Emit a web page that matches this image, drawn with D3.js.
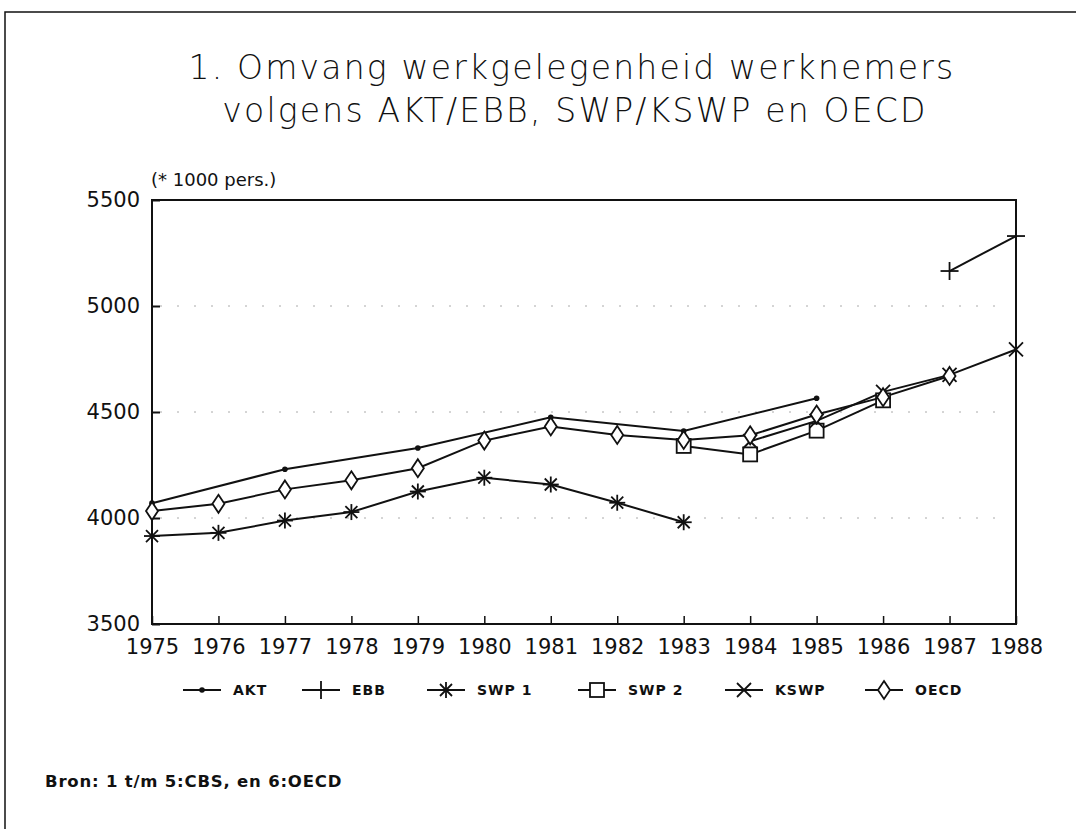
<!DOCTYPE html>
<html>
<head>
<meta charset="utf-8">
<script src="https://cdn.jsdelivr.net/npm/d3@7.9.0/dist/d3.min.js"></script>
<style>
  body { margin: 0; background: #fff; }
  svg { display: block; }
  text { font-family: "DejaVu Sans", "Liberation Sans", sans-serif; fill: #111; }
</style>
</head>
<body>
<svg id="chart" width="1076" height="829"></svg>
<script>
// data (* 1000 persons)
const years = [1975, 1976, 1977, 1978, 1979, 1980, 1981, 1982, 1983, 1984, 1985, 1986, 1987, 1988];
const yTicks = [3500, 4000, 4500, 5000, 5500];
const gridValues = [4000, 4500, 5000];

const aktYears = [1975, 1977, 1979, 1981, 1983, 1985];
const aktValues = [4070, 4230, 4330, 4475, 4410, 4565];

const ebbYears = [1987, 1988];
const ebbValues = [5165, 5330];

const swp1Years = [1975, 1976, 1977, 1978, 1979, 1980, 1981, 1982, 1983];
const swp1Values = [3915, 3930, 3988, 4028, 4125, 4190, 4158, 4072, 3980];

const swp2Years = [1983, 1984, 1985, 1986];
const swp2Values = [4340, 4300, 4412, 4555];

const kswpYears = [1984, 1985, 1986, 1987, 1988];
const kswpValues = [4362, 4458, 4595, 4675, 4795];

const oecdYears = [1975, 1976, 1977, 1978, 1979, 1980, 1981, 1982, 1983, 1984, 1985, 1986, 1987];
const oecdValues = [4033, 4067, 4135, 4178, 4235, 4365, 4432, 4392, 4368, 4390, 4488, 4570, 4670];

const seriesNames = ['AKT', 'EBB', 'SWP 1', 'SWP 2', 'KSWP', 'OECD'];
const seriesMarkers = ['dot', 'plus', 'star', 'square', 'cross', 'diamond'];

const series = [
  { name: seriesNames[0], marker: seriesMarkers[0], years: aktYears, values: aktValues },
  { name: seriesNames[1], marker: seriesMarkers[1], years: ebbYears, values: ebbValues },
  { name: seriesNames[2], marker: seriesMarkers[2], years: swp1Years, values: swp1Values },
  { name: seriesNames[3], marker: seriesMarkers[3], years: swp2Years, values: swp2Values },
  { name: seriesNames[4], marker: seriesMarkers[4], years: kswpYears, values: kswpValues },
  { name: seriesNames[5], marker: seriesMarkers[5], years: oecdYears, values: oecdValues }
];

const svg = d3.select('#chart');
const plotL = 152, plotR = 1016, plotT = 200, plotB = 624;

const x = d3.scaleLinear().domain([1975, 1988]).range([plotL, plotR]);
const y = d3.scaleLinear().domain([3500, 5500]).range([plotB, plotT]);

// outer frame
svg.append('rect')
  .attr('x', 5).attr('y', 12).attr('width', 1090).attr('height', 840)
  .attr('fill', 'none').attr('stroke', '#111').attr('stroke-width', 1.5);

// title
const title = svg.append('text')
  .attr('x', 572).attr('text-anchor', 'middle')
  .attr('font-size', 33).style('font-weight', 300).style('letter-spacing', '2.2px');
title.append('tspan').attr('x', 572).attr('y', 79).text('1. Omvang werkgelegenheid werknemers');
title.append('tspan').attr('x', 575).attr('y', 122).text('volgens AKT/EBB, SWP/KSWP en OECD');

svg.append('text')
  .attr('x', 151).attr('y', 186)
  .attr('font-size', 18)
  .text('(* 1000 pers.)');

// faint dotted grid
svg.append('g').selectAll('line')
  .data(gridValues).join('line')
  .attr('x1', plotL + 8).attr('x2', plotR - 8)
  .attr('y1', d => y(d)).attr('y2', d => y(d))
  .attr('stroke', '#aaa').attr('stroke-width', 1)
  .attr('stroke-dasharray', '2 15');

// plot box
svg.append('rect')
  .attr('x', plotL).attr('y', plotT).attr('width', plotR - plotL).attr('height', plotB - plotT)
  .attr('fill', 'none').attr('stroke', '#111').attr('stroke-width', 2);

// y axis
const yAxis = d3.axisLeft(y).tickValues(yTicks).tickSize(-8).tickPadding(12).tickFormat(d3.format('d'));
svg.append('g')
  .attr('transform', `translate(${plotL},0)`)
  .call(yAxis)
  .call(g => g.select('.domain').remove())
  .call(g => g.selectAll('line').attr('stroke', '#111').attr('stroke-width', 2))
  .call(g => g.selectAll('text').attr('font-size', 21).attr('fill', '#111')
    .style('font-family', '"DejaVu Sans", sans-serif'));

// x axis
const xAxis = d3.axisBottom(x).tickValues(years).tickSize(-8).tickPadding(18).tickFormat(d3.format('d'));
svg.append('g')
  .attr('transform', `translate(0,${plotB})`)
  .call(xAxis)
  .call(g => g.select('.domain').remove())
  .call(g => g.selectAll('line').attr('stroke', '#111').attr('stroke-width', 1.5))
  .call(g => g.selectAll('text').attr('font-size', 21).attr('fill', '#111')
    .attr('dy', '0.55em')
    .style('font-family', '"DejaVu Sans", sans-serif'));

// marker drawing
function drawMarker(g, type) {
  const line = (x1, y1, x2, y2) => {
    g.append('line').attr('x1', x1).attr('y1', y1).attr('x2', x2).attr('y2', y2)
      .attr('stroke', '#111').attr('stroke-width', 1.8);
  };
  if (type === 'dot') {
    g.append('circle').attr('r', 2.8).attr('fill', '#111');
  } else if (type === 'plus') {
    line(-9, 0, 9, 0); line(0, -9, 0, 9);
  } else if (type === 'star') {
    line(-8, 0, 8, 0); line(0, -8, 0, 8);
    line(-6, -6, 6, 6); line(-6, 6, 6, -6);
  } else if (type === 'square') {
    g.append('rect').attr('x', -7).attr('y', -7).attr('width', 14).attr('height', 14)
      .attr('fill', '#fff').attr('stroke', '#111').attr('stroke-width', 1.8);
  } else if (type === 'cross') {
    line(-7, -7, 7, 7); line(-7, 7, 7, -7);
  } else if (type === 'diamond') {
    g.append('path').attr('d', 'M0,-9L6,0L0,9L-6,0Z')
      .attr('fill', '#fff').attr('stroke', '#111').attr('stroke-width', 1.8);
  }
}

const lineGen = d3.line().x(d => x(d[0])).y(d => y(d[1]));

series.forEach(s => {
  const pts = s.years.map((yr, i) => [yr, s.values[i]]);
  svg.append('path')
    .attr('d', lineGen(pts))
    .attr('fill', 'none').attr('stroke', '#111').attr('stroke-width', 2);
});
series.forEach(s => {
  s.years.forEach((yr, i) => {
    const g = svg.append('g').attr('transform', `translate(${x(yr)},${y(s.values[i])})`);
    drawMarker(g, s.marker);
  });
});

// legend
const legendX = [183, 302, 427, 578, 725, 865];
const legendY = 690;
series.forEach((s, i) => {
  const g = svg.append('g').attr('transform', `translate(${legendX[i]},${legendY})`);
  g.append('line').attr('x1', 0).attr('x2', 38).attr('y1', 0).attr('y2', 0)
    .attr('stroke', '#111').attr('stroke-width', 2);
  const m = g.append('g').attr('transform', 'translate(19,0)');
  drawMarker(m, s.marker);
  g.append('text').attr('x', 50).attr('y', 5).attr('font-size', 14).style('font-weight', 'bold')
    .style('letter-spacing', '1px').text(s.name);
});

// source note
svg.append('text')
  .attr('x', 45).attr('y', 787)
  .attr('font-size', 16.5).style('font-weight', 'bold').style('letter-spacing', '0.8px')
  .text('Bron: 1 t/m 5:CBS, en 6:OECD');
</script>
</body>
</html>
